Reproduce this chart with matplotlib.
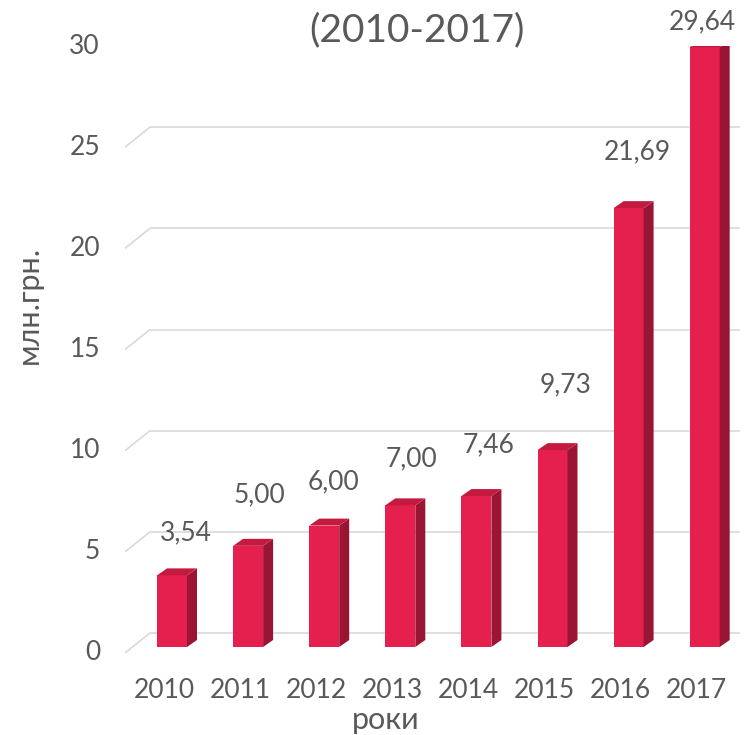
import matplotlib.pyplot as plt
from matplotlib.patches import Polygon

years = ['2010', '2011', '2012', '2013', '2014', '2015', '2016', '2017']
values = [3.54, 5.00, 6.00, 7.00, 7.46, 9.73, 21.69, 29.64]
value_labels = ['3,54', '5,00', '6,00', '7,00', '7,46', '9,73', '21,69', '29,64']
y_ticks = [0, 5, 10, 15, 20, 25, 30]

# label nudges in pixels (x right, y up from bar top)
label_dx = [14, 11, 9, 11, 12, 13, 9, -2]
label_dy = [43, 51, 44, 47, 51, 65, 56, 25]

W, H = 747, 735
TEXT = '#595959'
GRID = '#d9d9d9'
FRONT = '#e6204e'
TOP = '#c51a40'
SIDE = '#9a1434'
FONT = ['Lato', 'DejaVu Sans']

plt.rcParams['font.family'] = FONT

fig = plt.figure(figsize=(W / 100, H / 100), dpi=100)

# front plane of the pseudo-3d chart, in pixels
left, right = 125, 740
y_zero, y_top = 653, 46
ax = fig.add_axes([left / W, 1 - y_zero / H, (right - left) / W, (y_zero - y_top) / H])
ax.set_ylim(0, 30)
step = 76.1       # pixels between categories
first = 172       # pixel x of first bar centre
ax.set_xlim((left - first) / step, (right - first) / step)
ax.axis('off')

px_x = 1 / step
px_y = 30 / (y_zero - y_top)

# back wall gridlines with a slanted left edge
wall_dx, wall_dy = 25 * px_x, 20 * px_y
x0, x1 = ax.get_xlim()
for t in y_ticks:
    ax.plot([x0, x0 + wall_dx], [t, t + wall_dy], color=GRID, lw=1.2, zorder=1,
            solid_capstyle='butt')
    ax.plot([x0 + wall_dx, x1], [t + wall_dy, t + wall_dy], color=GRID, lw=1.2,
            zorder=1, solid_capstyle='butt')
    ax.text(x0 - 25 * px_x, t, str(t), ha='right', va='center', fontsize=19,
            color=TEXT)

# bars: front face plus side and top faces
base = 6 * px_y
bw = 30 * px_x
ddx, ddy = 10 * px_x, 7 * px_y
xs = list(range(len(values)))
ax.bar(xs, values, width=bw, bottom=base, color=FRONT, zorder=3)
for i, v in zip(xs, values):
    l, r = i - bw / 2, i + bw / 2
    top = base + v
    ax.add_patch(Polygon([(r, base), (r + ddx, base + ddy), (r + ddx, top + ddy), (r, top)],
                         closed=True, facecolor=SIDE, edgecolor='none', zorder=3))
    ax.add_patch(Polygon([(l, top), (r, top), (r + ddx, top + ddy), (l + ddx, top + ddy)],
                         closed=True, facecolor=TOP, edgecolor='none', zorder=3))
    ax.text(i + label_dx[i] * px_x, top + label_dy[i] * px_y, value_labels[i],
            ha='center', va='center', fontsize=19, color=TEXT, zorder=4)
    ax.text(i - 8 * px_x, -37 * px_y, years[i], ha='center', va='center',
            fontsize=19, color=TEXT)

ax.text((386 - first) / step, -(720 - y_zero) * px_y, 'роки', ha='center',
        va='center', fontsize=22, color=TEXT)
fig.text(29 / W, 1 - 305 / H, 'млн.грн.', rotation=90, ha='center', va='center',
         fontsize=22, color=TEXT)
fig.text(417 / W, 1 - 30 / H, '(2010-2017)', ha='center', va='center',
         fontsize=28, color=TEXT, zorder=5)

fig.savefig('out.png', dpi=100)
